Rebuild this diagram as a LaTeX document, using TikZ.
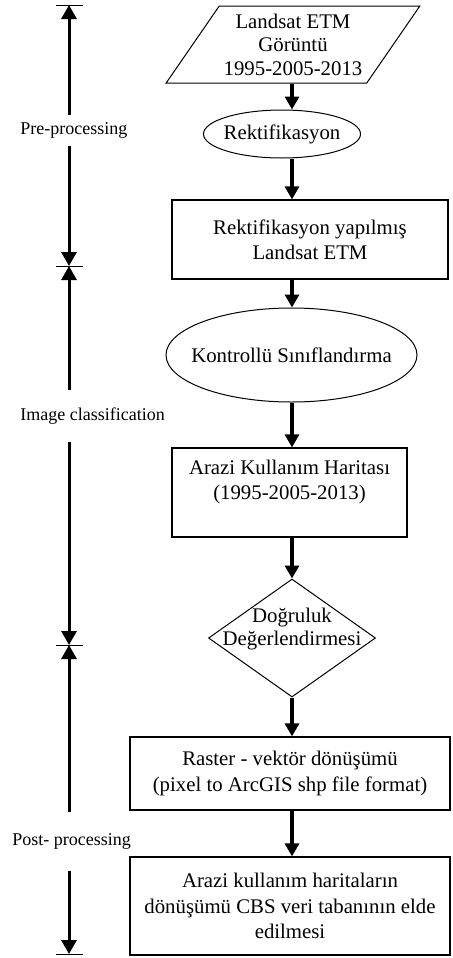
\documentclass[tikz,border=0pt]{standalone}
\usepackage{fontspec}
\setmainfont{Liberation Serif}
\usetikzlibrary{shapes.geometric,arrows.meta}

\tikzset{
    flowbox/.style={draw,line width=0.6pt,align=center,inner sep=1pt,font=\boxfontsize},
    flowell/.style={draw,ellipse,line width=0.5pt,align=center,inner sep=0pt,font=\boxfontsize},
    flowline/.style={line width=1.6pt,-{Triangle[width=7pt,length=6.5pt]}},
    axisline/.style={line width=1.5pt,-{Triangle[width=7.5pt,length=7pt]}},
    phaselabel/.style={anchor=west,inner sep=0pt,font=\phasefontsize},
}

\begin{document}
\begin{tikzpicture}[x=0.5pt,y=-0.5pt]
    \pgfmathsetmacro{\spinex}{292}
    \pgfmathsetmacro{\axisx}{69}
    \pgfmathsetmacro{\tickhalf}{13.5}
    \providecommand{\boxfontsize}{\fontsize{10.4pt}{12.6pt}\selectfont}
    \providecommand{\phasefontsize}{\fontsize{9pt}{11pt}\selectfont}
    \useasboundingbox (0,0) rectangle (452,958);
    \coordinate (spine) at (\spinex,0);
    % flow chart
    \node[draw,trapezium,trapezium left angle=51,trapezium right angle=129,trapezium stretches=true,minimum width=127pt,minimum height=38.5pt,inner sep=0pt,line width=0.5pt,align=center,font=\fontsize{10.4pt}{11.75pt}\selectfont] (landsat) at (293,44.5) {Landsat ETM\\Görüntü\\1995-2005-2013};
    \node[flowell,inner xsep=-3pt,minimum width=78.5pt,minimum height=24pt] (rektif) at (282,134) {Rektifikasyon};
    \node[flowbox,minimum width=138pt,minimum height=39.5pt] (rektifetm) at (310,239.5) {Rektifikasyon yapılmış\\Landsat ETM};
    \node[flowell,inner xsep=-8pt,minimum width=125.5pt,minimum height=47pt] (kontrol) at (291.5,355) {Kontrollü Sınıflandırma};
    \node[flowbox,minimum width=117.5pt,minimum height=44.5pt] (arazi) at (289.5,492.5) {Arazi Kullanım Haritası\\(1995-2005-2013)\\\mbox{}};
    \node[draw,diamond,minimum width=83.5pt,minimum height=59pt,inner sep=-14pt,line width=0.5pt,align=center,font=\fontsize{10.4pt}{11.5pt}\selectfont] (dogruluk) at (292,638) {Doğruluk\\Değerlendirmesi\\\mbox{}};
    \node[flowbox,minimum width=160pt,minimum height=36.5pt] (raster) at (290,773.5) {Raster - vektör dönüşümü\\(pixel to ArcGIS shp file format)};
    \node[flowbox,minimum width=160pt,minimum height=49pt] (cbs) at (290,906) {Arazi kullanım haritaların\\dönüşümü CBS veri tabanının elde\\edilmesi};
    \draw[flowline] (landsat.south -| spine) -- (rektif.north -| spine);
    \draw[flowline] (rektif.south -| spine) -- (rektifetm.north -| spine);
    \draw[flowline] (rektifetm.south -| spine) -- (kontrol.north -| spine);
    \draw[flowline] (kontrol.south -| spine) -- (arazi.north -| spine);
    \draw[flowline] (arazi.south -| spine) -- (dogruluk.north);
    \draw[flowline] (dogruluk.south) -- (raster.north -| spine);
    \draw[flowline] (raster.south -| spine) -- (cbs.north -| spine);
    % phases
    \node[phaselabel,minimum height=15.5pt] (pre) at (20,130.5) {Pre-processing};
    \node[phaselabel,minimum height=26pt] (cls) at (20,416) {Image classification};
    \node[phaselabel,minimum height=29.5pt] (post) at (12,841.5) {Post- processing};
    \coordinate (t0) at (\axisx,5);
    \coordinate (t1) at (\axisx,266);
    \coordinate (t2) at (\axisx,645);
    \coordinate (t3) at (\axisx,954);
    \foreach \t in {t0,t1,t2,t3}
        \draw[line width=0.5pt] (\t) +(-\tickhalf,0) -- +(\tickhalf,0);
    \draw[axisline] (pre.north -| t0) -- (t0);
    \draw[axisline] (pre.south -| t1) -- (t1);
    \draw[axisline] (cls.north -| t1) -- (t1);
    \draw[axisline] (cls.south -| t2) -- (t2);
    \draw[axisline] (post.north -| t2) -- (t2);
    \draw[axisline] (post.south -| t3) -- (t3);
\end{tikzpicture}
\end{document}
